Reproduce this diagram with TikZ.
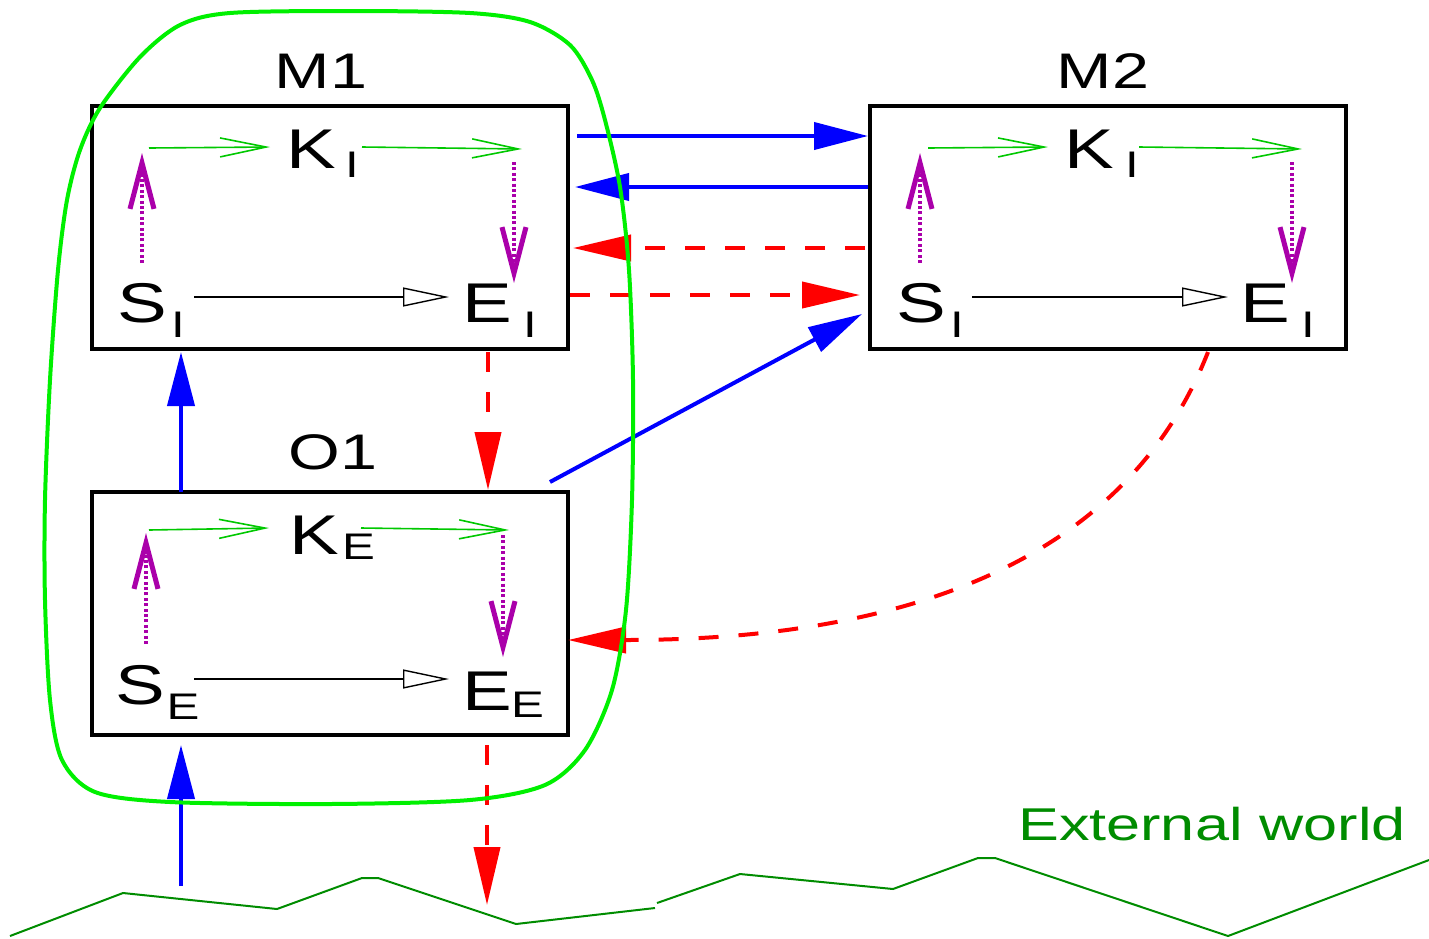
\documentclass[tikz,border=0pt]{standalone}
\usepackage{fontspec}
\setmainfont{Liberation Sans}
\usetikzlibrary{arrows.meta}
\definecolor{blobgreen}{RGB}{0,240,0}
\definecolor{ingreen}{RGB}{0,200,0}
\definecolor{purp}{RGB}{170,0,170}
\definecolor{groundgreen}{RGB}{0,140,0}
\newcommand{\hs}[1]{\scalebox{1.33}[1]{#1}}
\begin{document}
\begin{tikzpicture}[x=0.5pt,y=-0.5pt,
  box/.style={draw, line width=2pt, minimum width=238pt, minimum height=121.5pt, inner sep=0pt},
  title/.style={font=\fontsize{25}{25}\selectfont, inner sep=0pt, anchor=base},
  letter/.style={font=\fontsize{28}{28}\selectfont, inner sep=0pt, anchor=base},
  subl/.style={font=\fontsize{18.5}{18.5}\selectfont, inner sep=0pt, anchor=base},
  garr/.style={ingreen, line width=0.8pt, -{Straight Barb[length=23pt,width=9.5pt]}},
  parr/.style={purp, line width=1.6pt, dash pattern=on 1.5pt off 1.2pt, -{Straight Barb[length=23pt,width=12pt,line width=2.5pt]}},
  karr/.style={line width=0.7pt, -{Triangle[open,length=23pt,width=9.5pt]}},
  bluearr/.style={blue, line width=2pt, -{Triangle[length=27pt,width=13.5pt]}},
  redarr/.style={red, line width=2pt, dash pattern=on 10pt off 10pt, -{Triangle[length=29pt,width=13pt]}}
]
\useasboundingbox (0,0) rectangle (1429,938);

% boxes
\node[box] (M1) at (330,227.5) {};
\node[box] (M2) at (1108,227.5) {};
\node[box] (O1) at (330,613.5) {};

% titles
\node[title] (tM1) at (321,88) {\hs{M1}};
\node[title] (tM2) at (1103,88) {\hs{M2}};
\node[title] (tO1) at (333,469) {\hs{O1}};
\node[font=\fontsize{23}{23}\selectfont, inner sep=0pt, anchor=base, text=groundgreen] (ext) at (1212,840) {\hs{External world}};

% M1 contents
\node[letter] (m1K) at (311,168) {\hs{K}};
\node[subl] (m1Ks) at (352,177) {\hs{I}};
\node[letter] (m1S) at (142.5,322) {\hs{S}};
\node[subl] (m1Ss) at (178,337) {\hs{I}};
\node[letter] (m1E) at (487.5,322) {\hs{E}};
\node[subl] (m1Es) at (530,337) {\hs{I}};
\coordinate (m1g1s) at (149,148); \coordinate (m1g1e) at (270,147);
\coordinate (m1g2s) at (362,147); \coordinate (m1g2e) at (522,149);
\coordinate (m1pus) at (142,263); \coordinate (m1pue) at (142,153);
\coordinate (m1pds) at (514,162); \coordinate (m1pde) at (514,283);
\coordinate (m1ks) at (194,297); \coordinate (m1ke) at (449,297);
\draw[garr] (m1g1s) -- (m1g1e);
\draw[garr] (m1g2s) -- (m1g2e);
\draw[parr] (m1pus) -- (m1pue);
\draw[parr] (m1pds) -- (m1pde);
\draw[karr] (m1ks) -- (m1ke);

% M2 contents
\node[letter] (m2K) at (1089,168) {\hs{K}};
\node[subl] (m2Ks) at (1132,177) {\hs{I}};
\node[letter] (m2S) at (921.5,322) {\hs{S}};
\node[subl] (m2Ss) at (957,337) {\hs{I}};
\node[letter] (m2E) at (1265,322) {\hs{E}};
\node[subl] (m2Es) at (1308,337) {\hs{I}};
\coordinate (m2g1s) at (928,148); \coordinate (m2g1e) at (1048,147);
\coordinate (m2g2s) at (1139,147); \coordinate (m2g2e) at (1302,149);
\coordinate (m2pus) at (920,263); \coordinate (m2pue) at (920,153);
\coordinate (m2pds) at (1292,162); \coordinate (m2pde) at (1292,283);
\coordinate (m2ks) at (972,297); \coordinate (m2ke) at (1228,297);
\draw[garr] (m2g1s) -- (m2g1e);
\draw[garr] (m2g2s) -- (m2g2e);
\draw[parr] (m2pus) -- (m2pue);
\draw[parr] (m2pds) -- (m2pde);
\draw[karr] (m2ks) -- (m2ke);

% O1 contents
\node[letter] (o1K) at (314.5,554) {\hs{K}};
\node[subl] (o1Ks) at (358.5,559) {\hs{E}};
\node[letter] (o1S) at (140,704) {\hs{S}};
\node[subl] (o1Ss) at (183,719) {\hs{E}};
\node[letter] (o1E) at (487.5,710) {\hs{E}};
\node[subl] (o1Es) at (527.5,717) {\hs{E}};
\coordinate (o1g1s) at (149,530); \coordinate (o1g1e) at (269,528);
\coordinate (o1g2s) at (361,528); \coordinate (o1g2e) at (509,530);
\coordinate (o1pus) at (146,644); \coordinate (o1pue) at (146,533);
\coordinate (o1pds) at (503,535); \coordinate (o1pde) at (503,657);
\coordinate (o1ks) at (194,679); \coordinate (o1ke) at (449,679);
\draw[garr] (o1g1s) -- (o1g1e);
\draw[garr] (o1g2s) -- (o1g2e);
\draw[parr] (o1pus) -- (o1pue);
\draw[parr] (o1pds) -- (o1pde);
\draw[karr] (o1ks) -- (o1ke);

% connectors between boxes
\coordinate (c1s) at (577,136);
\draw[bluearr] (c1s) -- (M2.west |- c1s);
\coordinate (c2e) at (575,187);
\draw[bluearr] (M2.west |- c2e) -- (c2e);
\coordinate (c3s) at (865,248); \coordinate (c3e) at (573,248);
\draw[redarr] (c3s) -- (c3e);
\coordinate (c4s) at (570,295); \coordinate (c4e) at (860,295);
\draw[redarr] (c4s) -- (c4e);
\coordinate (c5s) at (550,482); \coordinate (c5e) at (862,314);
\draw[bluearr] (c5s) -- (c5e);
\coordinate (c6s) at (181,492); \coordinate (c6e) at (181,352);
\draw[bluearr] (c6s) -- (c6e);
\coordinate (c7s) at (488,352); \coordinate (c7e) at (488,490);
\draw[redarr] (c7s) -- (c7e);
\coordinate (c8s) at (1208,352); \coordinate (c8e) at (568,640);
\draw[redarr] (c8s) .. controls (1150,500) and (1000,640) .. (c8e);
\coordinate (c9s) at (181,886); \coordinate (c9e) at (181,745);
\draw[bluearr] (c9s) -- (c9e);
\coordinate (c10s) at (487,745); \coordinate (c10e) at (487,905);
\draw[redarr] (c10s) -- (c10e);

% external world ground line
\draw[groundgreen, line width=1pt, line join=round]
  (10,936) -- (123,893) -- (277,909) -- (362,878) -- (378,878) -- (516,924) -- (655,908);
\draw[groundgreen, line width=1pt, line join=round]
  (657,903) -- (740,874) -- (893,889) -- (978,858) -- (995,858) -- (1228,936) -- (1429,860);

% green enclosure
\draw[blobgreen, line width=2pt] plot[smooth cycle, tension=0.5] coordinates {
  (230,13) (350,11) (470,13) (530,22) (570,45) (592,80) (605,120) (620,187)
  (629,270) (633,380) (632,500) (626,610) (612,690) (585,750) (545,785)
  (470,800) (330,804) (170,802) (95,792) (62,760) (50,700) (45,600) (45,500)
  (50,380) (58,270) (67,200) (80,150) (100,108) (140,57) (180,25)};
\end{tikzpicture}
\end{document}
